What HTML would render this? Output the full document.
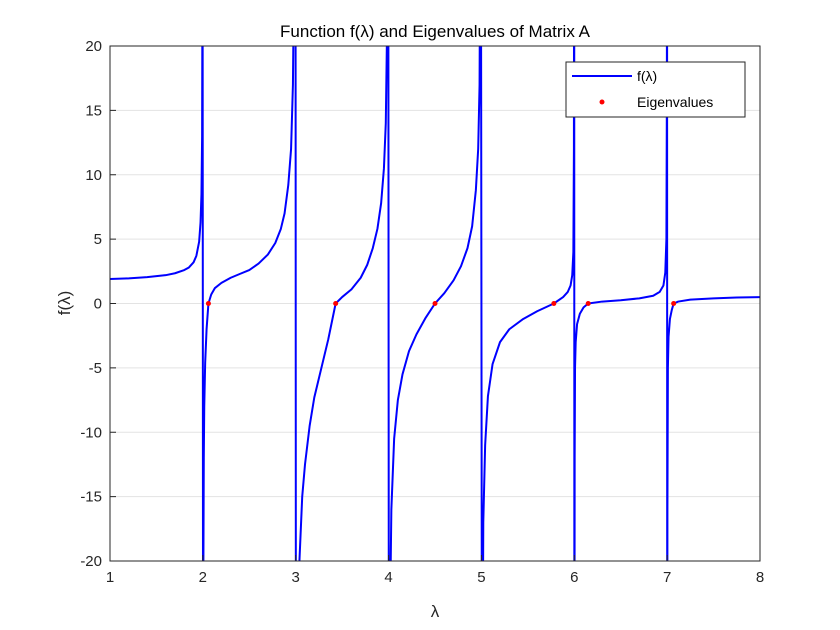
<!DOCTYPE html>
<html><head><meta charset="utf-8"><style>
html,body{margin:0;padding:0;background:#fff;overflow:hidden;width:840px;height:630px;}
svg{display:block;position:absolute;left:0;top:0;font-family:"Liberation Sans",Arial,sans-serif;}
</style></head><body>
<svg id="chart" width="840" height="630">
<rect x="0" y="0" width="840" height="630" fill="#fff"/>
<defs><clipPath id="clip"><rect x="110" y="46" width="650" height="515"/></clipPath></defs>
<g id="grid"></g>
<g id="curve" clip-path="url(#clip)"></g>
<rect x="110" y="46" width="650" height="515" fill="none" stroke="#262626" stroke-width="1"/>
<g id="ticks"></g>
<text x="435" y="37" text-anchor="middle" font-size="17" fill="#000">Function f(λ) and Eigenvalues of Matrix A</text>
<text x="435" y="617" text-anchor="middle" font-size="17" fill="#262626">λ</text>
<text transform="translate(70,303) rotate(-90)" text-anchor="middle" font-size="17" fill="#262626">f(λ)</text>
<g>
<rect x="566" y="62" width="179" height="55" fill="#fff" stroke="#262626" stroke-width="1"/>
<line x1="572" y1="76" x2="632" y2="76" stroke="#0000ff" stroke-width="2"/>
<text x="637" y="81" font-size="14" fill="#000">f(λ)</text>
<circle cx="602" cy="102" r="2.5" fill="#ff0000"/>
<text x="637" y="107" font-size="14" fill="#000">Eigenvalues</text>
</g>
</svg>
<script>
const lambdaVals=[1,1.2,1.4,1.6,1.7,1.8,1.85,1.9,1.93,1.96,1.975,1.985,1.992,1.997,2.003,2.006,2.01,2.015,2.025,2.04,2.06,2.09,2.13,2.2,2.3,2.4,2.5,2.6,2.7,2.78,2.84,2.88,2.92,2.95,2.97,2.985,2.995,3.005,3.02,3.04,3.07,3.1,3.15,3.2,3.27,3.35,3.43,3.5,3.6,3.7,3.77,3.83,3.88,3.92,3.95,3.97,3.985,3.995,4.005,4.015,4.03,4.06,4.1,4.15,4.22,4.3,4.4,4.5,4.6,4.7,4.78,4.85,4.9,4.94,4.965,4.98,4.993,5.007,5.02,5.04,5.07,5.12,5.2,5.3,5.45,5.6,5.78,5.88,5.93,5.96,5.978,5.99,5.996,5.999,6.001,6.004,6.008,6.015,6.03,6.06,6.1,6.15,6.3,6.5,6.7,6.85,6.92,6.96,6.98,6.992,6.997,6.999,7.001,7.003,7.008,7.015,7.03,7.05,7.07,7.12,7.25,7.5,7.75,8];
const fVals=[1.9,1.95,2.05,2.2,2.35,2.6,2.8,3.2,3.7,4.8,6.3,8.5,13,30,-40,-20,-12,-8,-4.6,-2,0,0.7,1.2,1.6,2,2.3,2.6,3.1,3.8,4.7,5.8,7,9.2,12,17,28,80,-80,-30,-20,-15,-12.5,-9.5,-7.3,-5.2,-2.8,0,0.5,1.1,2,3,4.3,5.8,7.8,10.5,14,22,50,-50,-25,-16,-10.5,-7.5,-5.5,-3.7,-2.4,-1.1,0,0.8,1.8,2.9,4.3,6,8.8,12,17,40,-40,-17,-11,-7.2,-4.7,-3,-2,-1.2,-0.6,0,0.5,0.9,1.4,2.2,4,12,40,-40,-12,-5,-3,-1.6,-0.8,-0.3,0,0.15,0.25,0.4,0.6,0.9,1.4,2.4,5,16,40,-40,-16,-5,-2.6,-1.2,-0.5,0,0.15,0.3,0.4,0.47,0.5];
const eigVals=[2.06,3.43,4.5,5.78,6.15,7.07];
const xTicks=[1,2,3,4,5,6,7,8];
const yTicks=[-20,-15,-10,-5,0,5,10,15,20];
const NS='http://www.w3.org/2000/svg';
const X=v=>110+(v-1)*650/7;
const Y=v=>303.5-v*515/40;
const grid=document.getElementById('grid'),ticks=document.getElementById('ticks'),curve=document.getElementById('curve');
yTicks.forEach(t=>{
  const g=document.createElementNS(NS,'line');
  
  
  g.setAttribute('x1',110);g.setAttribute('x2',760);g.setAttribute('y1',Y(t));g.setAttribute('y2',Y(t));
  g.setAttribute('stroke','#e3e3e3');grid.appendChild(g);
  const tk=document.createElementNS(NS,'line');
  
  
  tk.setAttribute('x1',110);tk.setAttribute('x2',116);tk.setAttribute('y1',Y(t));tk.setAttribute('y2',Y(t));
  tk.setAttribute('stroke','#262626');ticks.appendChild(tk);
  const lb=document.createElementNS(NS,'text');
  
  
  lb.setAttribute('x',102);lb.setAttribute('y',Y(t)+5);lb.setAttribute('text-anchor','end');
  lb.setAttribute('font-size','15');lb.setAttribute('fill','#262626');lb.textContent=t;ticks.appendChild(lb);
});
xTicks.forEach(t=>{
  const tk=document.createElementNS(NS,'line');
  
  
  tk.setAttribute('x1',X(t));tk.setAttribute('x2',X(t));tk.setAttribute('y1',561);tk.setAttribute('y2',555);
  tk.setAttribute('stroke','#262626');ticks.appendChild(tk);
  const lb=document.createElementNS(NS,'text');
  
  
  lb.setAttribute('x',X(t));lb.setAttribute('y',582);lb.setAttribute('text-anchor','middle');
  lb.setAttribute('font-size','15');lb.setAttribute('fill','#262626');lb.textContent=t;ticks.appendChild(lb);
});
const pl=document.createElementNS(NS,'polyline');


pl.setAttribute('points',lambdaVals.map((l,i)=>X(l)+','+Y(fVals[i])).join(' '));
pl.setAttribute('fill','none');pl.setAttribute('stroke','#0000ff');pl.setAttribute('stroke-width','2');
pl.setAttribute('stroke-linejoin','round');
curve.appendChild(pl);
eigVals.forEach(e=>{
  const c=document.createElementNS(NS,'circle');
  
  
  c.setAttribute('cx',X(e));c.setAttribute('cy',Y(0));c.setAttribute('r',2.5);c.setAttribute('fill','#ff0000');
  curve.appendChild(c);
});
</script>
</body></html>
